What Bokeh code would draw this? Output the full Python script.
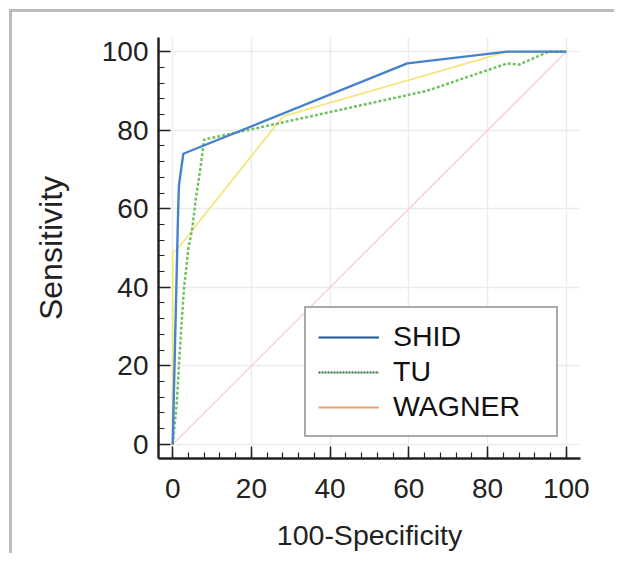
from bokeh.plotting import figure
from bokeh.models import Legend, LegendItem, Range1d, FixedTicker
from bokeh.embed import file_html
from bokeh.resources import INLINE

# ---- data ----
shid_x = [0, 1.4, 1.6, 2.7, 59.6, 85, 100]
shid_y = [0, 60, 66, 74, 97, 100, 100]

tu_x = [0, 0.5, 1.0, 1.6, 2.2, 2.9, 4.0, 5.0, 5.8, 7.0, 8.0, 64.5, 85, 88, 95.5, 100]
tu_y = [0, 5, 10, 20, 30, 40, 50, 55, 62, 70, 77.6, 90, 97, 96.7, 100, 100]

wag_x = [0, 0, 1.0, 28, 85, 100]
wag_y = [0, 49, 49.5, 83.5, 100, 100]

diag_x = [0, 100]
diag_y = [0, 100]

ticks = [0, 20, 40, 60, 80, 100]
series_names = ["SHID", "TU", "WAGNER"]
nan = float("nan")

FONT = "Liberation Sans"

# grey frame lines (left and top) of the image, drawn as host background behind a transparent border
frame_css = {
    "background-image": "linear-gradient(#bdbdbd, #bdbdbd), linear-gradient(#bdbdbd, #bdbdbd)",
    "background-size": "3px 100%, 100% 3px",
    "background-position": "9px 9px, 9px 9px",
    "background-repeat": "no-repeat",
}

p = figure(width=614, height=553, output_backend="svg", toolbar_location=None,
           x_range=Range1d(-3.6, 103.6), y_range=Range1d(-3.6, 103.6),
           min_border_left=158, min_border_top=37, min_border_right=34, min_border_bottom=95,
           styles=frame_css)
p.outline_line_color = None
p.background_fill_color = "white"
p.border_fill_alpha = 0

# grid
for g in (p.xgrid, p.ygrid):
    g.grid_line_color = "#ececec"
    g.grid_line_width = 1.5

# axes
for ax in (p.xaxis, p.yaxis):
    ax.ticker = FixedTicker(ticks=ticks, minor_ticks=[i * 4 for i in range(26)])
    ax.axis_line_color = "#222222"
    ax.axis_line_width = 2.5
    ax.major_tick_line_color = "#222222"
    ax.major_tick_line_width = 1.5
    ax.minor_tick_line_color = "#222222"
    ax.minor_tick_line_width = 1.2
    ax.major_tick_in = 12
    ax.major_tick_out = 0
    ax.minor_tick_in = 6
    ax.minor_tick_out = 0
    ax.major_label_text_font = FONT
    ax.major_label_text_font_size = "28px"
    ax.major_label_text_color = "#222222"
    ax.axis_label_text_font = FONT
    ax.axis_label_text_font_style = "normal"
    ax.axis_label_text_color = "#222222"

p.xaxis.axis_label = "100-Specificity"
p.yaxis.axis_label = "Sensitivity"
p.xaxis.axis_label_text_font_size = "28.5px"
p.yaxis.axis_label_text_font_size = "32px"
p.xaxis.major_label_standoff = 20
p.yaxis.major_label_standoff = 10
p.xaxis.axis_label_standoff = 18
p.yaxis.axis_label_standoff = 30

# curves
p.line(diag_x, diag_y, line_color="#ffc4cc", line_width=1.2)
p.line(wag_x, wag_y, line_color="#f6e57c", line_width=1.8)
p.line(tu_x, tu_y, line_color="#74c163", line_width=2.5, line_dash="3 2")
p.line(shid_x, shid_y, line_color="#4683cc", line_width=2.4)

# legend proxies (legend colours differ from drawn curves); NaN placeholders draw nothing
r1 = p.line([nan], [nan], line_color="#1f5793", line_width=2)
r2 = p.line([nan], [nan], line_color="#2e6e3a", line_width=2, line_dash="2 1")
r3 = p.line([nan], [nan], line_color="#e9a26c", line_width=2)

legend = Legend(items=[LegendItem(label=series_names[0], renderers=[r1]),
                       LegendItem(label=series_names[1], renderers=[r2]),
                       LegendItem(label=series_names[2], renderers=[r3])],
                location=(146, 21))
legend.label_text_font = FONT
legend.label_text_font_size = "28.5px"
legend.label_text_color = "#111111"
legend.glyph_width = 61
legend.glyph_height = 30
legend.label_height = 30
legend.label_width = 151
legend.label_standoff = 14
legend.spacing = 2
legend.padding = 12
legend.margin = 0
legend.border_line_color = "#555555"
legend.border_line_width = 2
legend.background_fill_alpha = 1
p.add_layout(legend, "center")

open("out.html", "w").write(file_html(p, INLINE))
